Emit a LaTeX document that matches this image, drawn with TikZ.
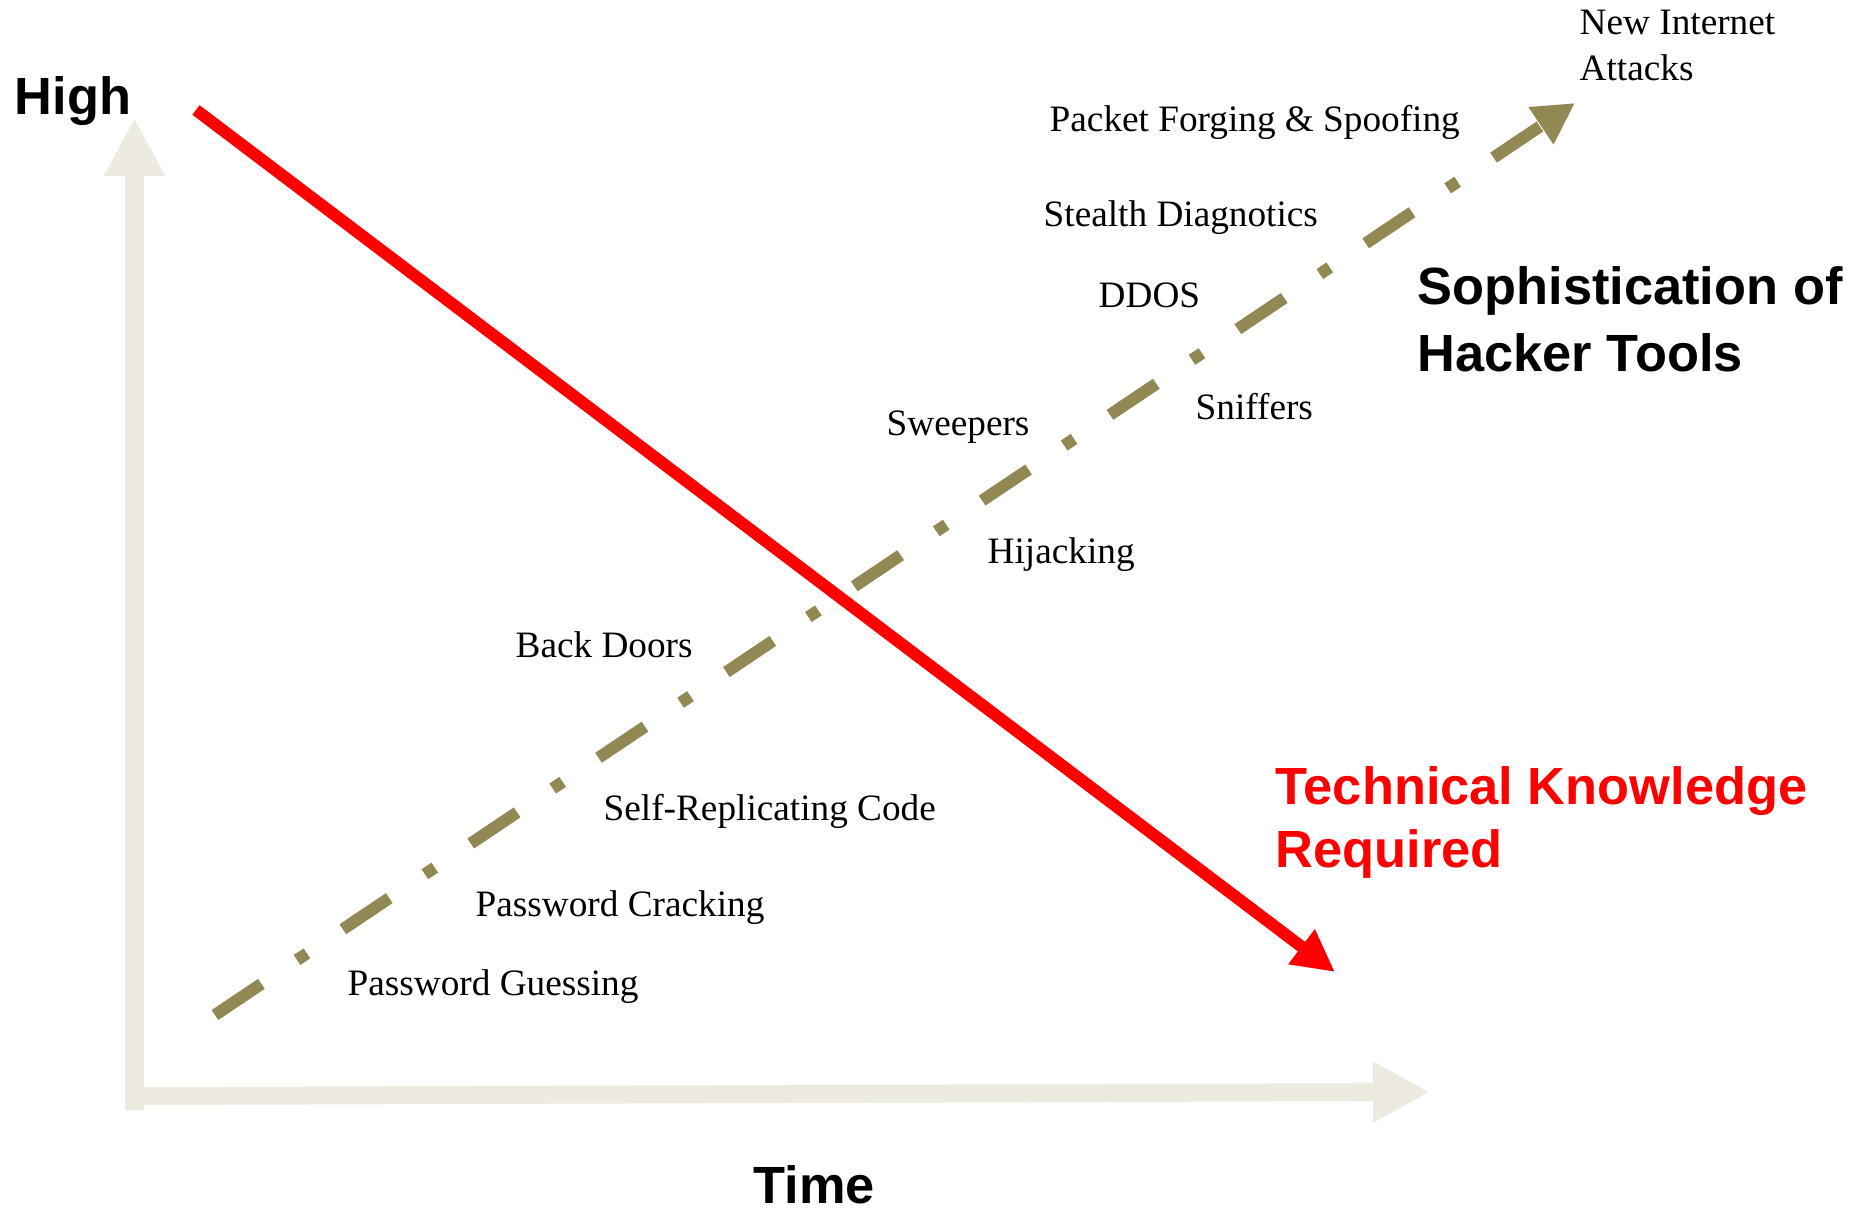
\documentclass[tikz,border=0pt]{standalone}
\usepackage{fontspec}
\setmainfont{Liberation Serif}
\setsansfont{Liberation Sans}
\usetikzlibrary{arrows.meta}

\definecolor{axisbeige}{RGB}{237,234,224}
\definecolor{toololive}{RGB}{145,136,84}

\begin{document}
\begin{tikzpicture}[x=0.1mm, y=-0.1mm,
	lbl/.style={anchor=base west, inner sep=0pt,
		font=\fontsize{10.6}{13.1}\selectfont},
	bigtitle/.style={anchor=base west, inner sep=0pt, align=left,
		font=\sffamily\bfseries\fontsize{14.9}{18.2}\selectfont}]

\useasboundingbox (0, 0) rectangle (1868, 1209);

%axes
\draw[axisbeige, line width=1.9mm, -{Triangle[length=5.8mm, width=5.7mm]}]
	(134.5, 1110) -- (134.5, 118);
\draw[axisbeige, line width=1.8mm, -{Triangle[length=5.7mm, width=5.7mm]}]
	(144, 1096) -- (1430, 1092);

%technical knowledge
\draw[red, line width=1.2mm, -{Triangle[length=4.2mm, width=4.1mm]}]
	(196, 110) -- (1335, 972);

%hacker tools
\draw[toololive, line width=1.2mm,
	dash pattern=on 15.9pt off 12.2pt on 3.4pt off 12.3pt,
	-{Triangle[length=4.1mm, width=4.2mm]}]
	(215, 1015) -- (1575, 103);

%multi-line nodes sit on their last baseline
\node[bigtitle] (high) at (14, 115) {High};
\node[bigtitle] (time) at (753, 1203) {Time};
\node[bigtitle, font=\sffamily\bfseries\fontsize{14.9}{19.3}\selectfont]
	(tools) at (1417, 372) {Sophistication of\\Hacker Tools};
\node[bigtitle, red] (knowledge) at (1275, 868) {Technical Knowledge\\Required};

\node[lbl, align=left] (newattacks) at (1579, 81) {New Internet\\Attacks};
\node[lbl] (forging) at (1049, 132) {Packet Forging \& Spoofing};
\node[lbl] (stealth) at (1043, 227) {Stealth Diagnotics};
\node[lbl] (ddos) at (1098, 308) {DDOS};
\node[lbl] (sniffers) at (1195, 420) {Sniffers};
\node[lbl] (sweepers) at (886, 436) {Sweepers};
\node[lbl] (hijacking) at (987, 564) {Hijacking};
\node[lbl] (backdoors) at (515, 658) {Back Doors};
\node[lbl] (selfrep) at (603, 821) {Self-Replicating Code};
\node[lbl] (cracking) at (475, 916) {Password Cracking};
\node[lbl] (guessing) at (347, 996) {Password Guessing};

\end{tikzpicture}
\end{document}
